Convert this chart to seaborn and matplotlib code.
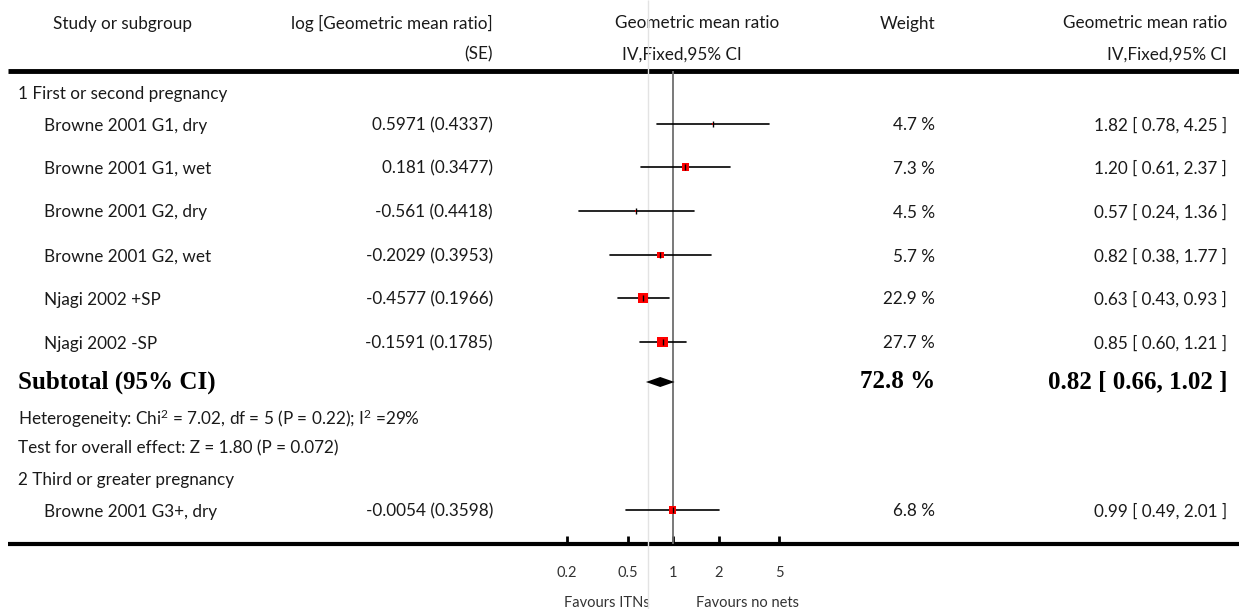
import numpy as np
import pandas as pd
import matplotlib
matplotlib.use("Agg")
import matplotlib.pyplot as plt
import seaborn as sns

# ---------------- data ----------------
studies = ["Browne 2001 G1, dry", "Browne 2001 G1, wet", "Browne 2001 G2, dry",
           "Browne 2001 G2, wet", "Njagi 2002 +SP", "Njagi 2002 -SP",
           "Browne 2001 G3+, dry"]
subgroup = [1, 1, 1, 1, 1, 1, 2]
log_gmr = ["0.5971", "0.181", "-0.561", "-0.2029", "-0.4577", "-0.1591", "-0.0054"]
log_se = ["0.4337", "0.3477", "0.4418", "0.3953", "0.1966", "0.1785", "0.3598"]
weights = [4.7, 7.3, 4.5, 5.7, 22.9, 27.7, 6.8]
gmr = [1.82, 1.20, 0.57, 0.82, 0.63, 0.85, 0.99]
ci_low = [0.78, 0.61, 0.24, 0.38, 0.43, 0.60, 0.49]
ci_high = [4.25, 2.37, 1.36, 1.77, 0.93, 1.21, 2.01]

subgroup_titles = ["1 First or second pregnancy", "2 Third or greater pregnancy"]
subtotal_est, subtotal_low, subtotal_high = 0.82, 0.66, 1.02
subtotal_weight = 72.8
heterogeneity = "Heterogeneity: Chi$^{2}$ = 7.02, df = 5 (P = 0.22); I$^{2}$ =29%"
overall_test = "Test for overall effect: Z = 1.80 (P = 0.072)"
overall_line = 0.68

tick_values = [0.2, 0.5, 1, 2, 5]
tick_labels = ["0.2", "0.5", "1", "2", "5"]
favours_left = "Favours ITNs"
favours_right = "Favours no nets"

# ---------------- layout (pixel rows) ----------------
W, H = 1239, 609
row_y = [124, 167, 211, 255, 298, 342, 510]
group_y = [92, 479]
subtotal_y = 382
het_y = 417
test_y = 447
axis_y = 544
DY = 1.5  # text baseline nudge

sns.set_theme(style="white")
plt.rcParams["font.family"] = ["Lato", "DejaVu Sans"]
plt.rcParams["mathtext.fontset"] = "custom"
plt.rcParams["mathtext.rm"] = "Lato"
plt.rcParams["mathtext.it"] = "Lato:italic"
plt.rcParams["mathtext.bf"] = "Lato:bold"
TXT = "#1a1a1a"
FS = 12.3

fig = plt.figure(figsize=(W / 100, H / 100), dpi=100)
ax_t = fig.add_axes([0, 0, 1, 1])
ax_t.set_xlim(0, W)
ax_t.set_ylim(H, 0)
ax_t.axis("off")

# forest axes: log scale, 0.2 -> 567.2 px, 5 -> 779.4 px
x0, x1 = 567.2, 779.4
ax = fig.add_axes([x0 / W, (H - axis_y) / H, (x1 - x0) / W, axis_y / H])
ax.set_xscale("log")
ax.set_xlim(0.2, 5)
ax.set_ylim(axis_y, 0)
ax.patch.set_alpha(0)
for s in ax.spines.values():
    s.set_visible(False)

# header
hdr = dict(fontsize=FS, color=TXT, va="center")
ax_t.text(53, 22 + DY, "Study or subgroup", ha="left", **hdr)
ax_t.text(493, 22 + DY, "log [Geometric mean ratio]", ha="right", **hdr)
ax_t.text(493, 53 + DY, "(SE)", ha="right", **hdr)
ax_t.text(697, 22 + DY, "Geometric mean ratio", ha="center", **hdr)
ax_t.text(682, 53 + DY, "IV,Fixed,95% CI", ha="center", **hdr)
ax_t.text(935, 22 + DY, "Weight", ha="right", **hdr)
ax_t.text(1227, 22 + DY, "Geometric mean ratio", ha="right", **hdr)
ax_t.text(1227, 53 + DY, "IV,Fixed,95% CI", ha="right", **hdr)
ax_t.hlines(71, 8, W, color="black", lw=3.5)
ax_t.hlines(axis_y, 8, W, color="black", lw=3)

# reference lines
ax.vlines(overall_line, 0, H, color="#e3e3e3", lw=1, clip_on=False, zorder=0)
ax.vlines(1, 71, axis_y, color="#6e6e6e", lw=1.3, zorder=1)

# table rows
for gi, title in enumerate(subgroup_titles):
    ax_t.text(18, group_y[gi] + DY, title, ha="left", **hdr)
for i, name in enumerate(studies):
    y = row_y[i] + DY
    ax_t.text(44, y, name, ha="left", **hdr)
    ax_t.text(493, y, f"{log_gmr[i]} ({log_se[i]})", ha="right", **hdr)
    ax_t.text(935, y, f"{weights[i]:.1f} %", ha="right", **hdr)
    ax_t.text(1227, y, f"{gmr[i]:.2f} [ {ci_low[i]:.2f}, {ci_high[i]:.2f} ]", ha="right", **hdr)

bold = dict(fontsize=18, color="black", va="center", fontweight="bold",
            family=["Liberation Serif", "DejaVu Serif"])
ax_t.text(18, subtotal_y, "Subtotal (95% CI)", ha="left", **bold)
ax_t.text(935, subtotal_y, f"{subtotal_weight:.1f} %", ha="right", **bold)
ax_t.text(1227, subtotal_y,
          f"{subtotal_est:.2f} [ {subtotal_low:.2f}, {subtotal_high:.2f} ]",
          ha="right", **bold)
ax_t.text(18, het_y + DY, heterogeneity, ha="left", **hdr)
ax_t.text(18, test_y + DY, overall_test, ha="left", **hdr)

# CI lines via seaborn
df = pd.DataFrame({"study": studies, "gmr": gmr, "lo": ci_low, "hi": ci_high,
                   "weight": weights, "y": row_y})
long = pd.concat([df.assign(x=df["lo"]), df.assign(x=df["hi"])])
sns.lineplot(data=long, x="x", y="y", units="study", estimator=None,
             color="black", lw=1.2, ax=ax, sort=False, legend=False, zorder=2)

# weight squares (marker area grows with weight; very small weights barely visible)
def square_area(w):
    if w < 5:
        return 2.0
    return 25 + (62 - 25) * (w - 5.7) / (27.7 - 5.7)

size_map = {w: square_area(w) for w in weights}
sns.scatterplot(data=df, x="gmr", y="y", size="weight", sizes=size_map,
                marker="s", color="#ff0000",
                linewidth=0, legend=False, ax=ax, zorder=3, clip_on=False)
# point-estimate ticks
sns.scatterplot(data=df, x="gmr", y="y", marker="|", s=18, color="black",
                linewidth=1, legend=False, ax=ax, zorder=4)

# subtotal diamond
dh = 5
ax.fill([subtotal_low, subtotal_est, subtotal_high, subtotal_est],
        [subtotal_y, subtotal_y - dh, subtotal_y, subtotal_y + dh],
        color="black", lw=0, zorder=3)

# axis ticks
ax.set_xticks(tick_values)
ax.set_xticklabels(tick_labels)
ax.xaxis.set_minor_locator(matplotlib.ticker.NullLocator())
ax.tick_params(axis="x", which="major", direction="in", length=6, width=2,
               color="black", labelsize=10.5, labelcolor="#333333", pad=16,
               bottom=True)
ax.set_yticks([])
ax.set_xlabel("")
ax.set_ylabel("")

ax_t.text(650, 603, favours_left, ha="right", va="center", fontsize=10.5, color="#333333")
ax_t.text(696, 603, favours_right, ha="left", va="center", fontsize=10.5, color="#333333")

fig.savefig("out.png", dpi=100)
